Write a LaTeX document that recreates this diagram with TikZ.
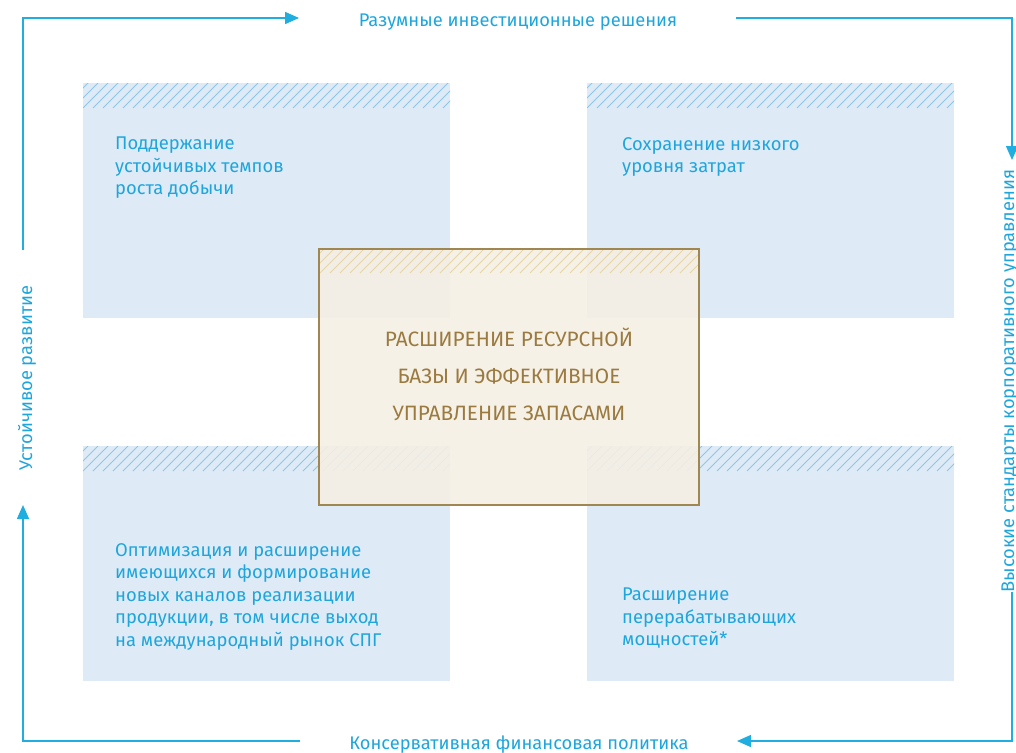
\documentclass[tikz,border=0pt]{standalone}
\usepackage{fontspec}
\setmainfont{Fira Sans}
\usetikzlibrary{arrows.meta}
\definecolor{cyanT}{HTML}{1EA6DC}
\definecolor{lineC}{HTML}{1FAEDF}
\definecolor{boxF}{HTML}{DEEBF6}
\definecolor{hatchB}{HTML}{8EC6EA}
\definecolor{brownT}{HTML}{9A7A3F}
\definecolor{brownB}{HTML}{A08650}
\definecolor{beigeF}{HTML}{F5EFE4}
\definecolor{hatchY}{HTML}{E6D5A6}
\tikzset{
  flow/.style={draw=lineC, line width=1.5pt},
  flowarr/.style={flow, -{Triangle[length=14pt,width=12pt]}},
  sidelabel/.style={text=cyanT, font=\fontsize{18.3}{20}\selectfont, inner sep=0pt, anchor=base},
  boxtext/.style={text=cyanT, font=\fontsize{18.4}{22.5}\selectfont, align=left, anchor=north west, inner sep=0pt},
  centertext/.style={text=brownT, font=\fontsize{20.8}{37}\selectfont, align=center, inner sep=0pt},
}
\newcommand{\hatchband}[5]{% x1 y1 x2 y2 color
  \begin{scope}
    \clip (#1,#2) rectangle (#3,#4);
    \foreach \k in {-40,-30,...,420} {
      \draw[#5, line width=1pt] (#1+\k,#4) -- ++(30,-30);
    }
  \end{scope}}
\begin{document}
\begin{tikzpicture}[x=1pt,y=-1pt]
\useasboundingbox (0,0) rectangle (1016,752);
% blue boxes
\fill[boxF] (83,83) rectangle (450,318);
\fill[boxF] (587,83) rectangle (954,318);
\fill[boxF] (83,446) rectangle (450,681);
\fill[boxF] (587,446) rectangle (954,681);
\hatchband{83}{83}{450}{108}{hatchB}
\hatchband{587}{83}{954}{108}{hatchB}
\hatchband{83}{446}{450}{471}{hatchB}
\hatchband{587}{446}{954}{471}{hatchB}
\node[boxtext] (tl) at (115,137) {Поддержание\\устойчивых темпов\\роста добычи};
\node[boxtext] (tr) at (622,137) {Сохранение низкого\\уровня затрат};
\node[boxtext] (bl) at (115,543) {Оптимизация и расширение\\имеющихся и формирование\\новых каналов реализации\\продукции, в том числе выход\\на международный рынок СПГ};
\node[boxtext] (br) at (622,588) {Расширение\\перерабатывающих\\мощностей*};
% center box
\fill[beigeF, opacity=0.88] (319,249) rectangle (699,505);
\hatchband{320}{250}{698}{273}{hatchY}
\draw[brownB, line width=1.5pt] (319,249) rectangle (699,505);
\node[centertext] (c) at (509,374) {РАСШИРЕНИЕ РЕСУРСНОЙ\\БАЗЫ И ЭФФЕКТИВНОЕ\\УПРАВЛЕНИЕ ЗАПАСАМИ};
% outer cycle
\coordinate (ctl) at (23,18);
\coordinate (ctr) at (1012,18);
\coordinate (cbl) at (23,741);
\coordinate (cbr) at (1012,741);
\coordinate (ta) at (299,18);
\coordinate (tb) at (736,18);
\coordinate (ra) at (1012,160);
\coordinate (rb) at (1012,592);
\coordinate (ba) at (737,741);
\coordinate (bb) at (300,741);
\coordinate (la) at (23,505);
\coordinate (lb) at (23,250);
\node[sidelabel] (tt) at (518,27) {Разумные инвестиционные решения};
\node[sidelabel] (bt) at (519,749) {Консервативная финансовая политика};
\node[sidelabel, rotate=90] (lt) at (32,378) {Устойчивое развитие};
\node[sidelabel, rotate=90] (rt) at (1014,381) {Высокие стандарты корпоративного управления};
\draw[flowarr] (lb) -- (ctl) -- (ta);
\draw[flowarr] (tb) -- (ctr) -- (ra);
\draw[flowarr] (rb) -- (cbr) -- (ba);
\draw[flowarr] (bb) -- (cbl) -- (la);
\end{tikzpicture}
\end{document}
